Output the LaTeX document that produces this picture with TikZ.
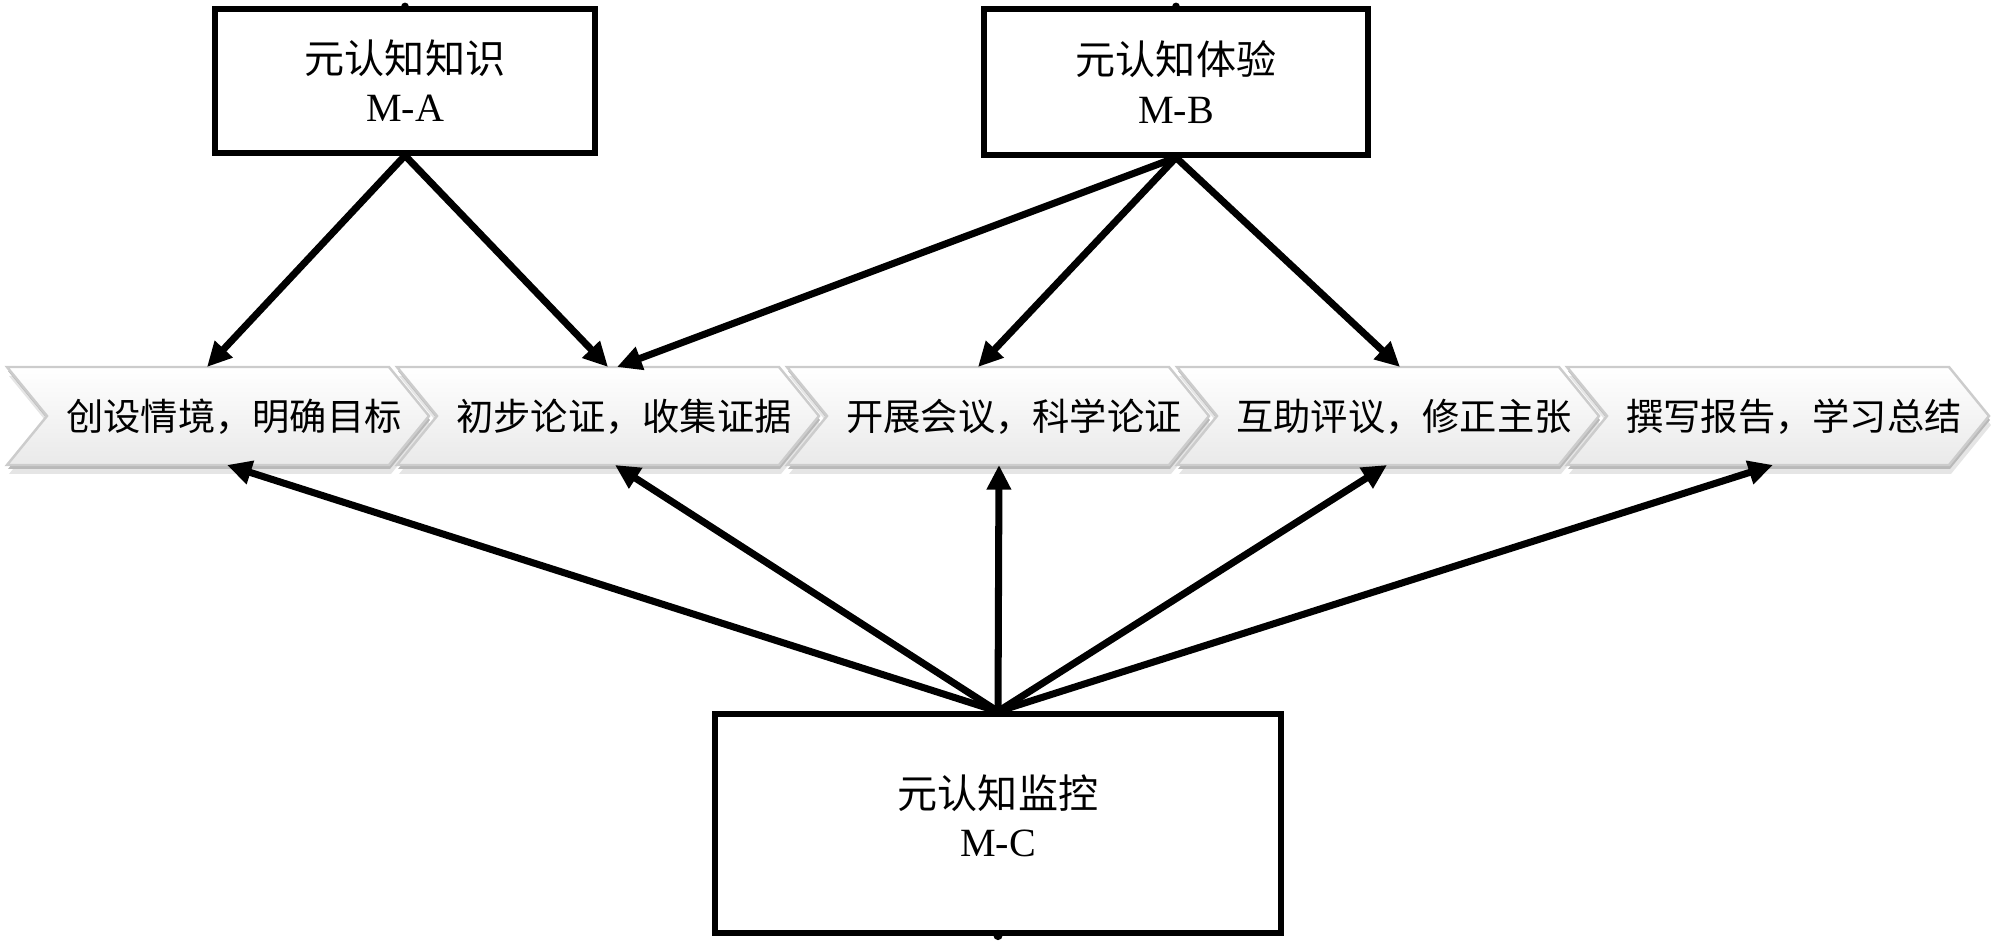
\documentclass[tikz,border=0pt]{standalone}
\usepackage{fontspec}
\setmainfont{Liberation Serif}
\newfontfamily\cjk{Noto Sans CJK SC}
\usetikzlibrary{arrows.meta,calc}
\begin{document}
\begin{tikzpicture}[x=0.01cm,y=-0.01cm,
  mbox/.style={draw=black, line width=1.7pt, fill=white, inner sep=0pt, align=center,
               font=\fontsize{11.4}{13.7}\selectfont},
  boxtext/.style={inner sep=0pt, align=center, font=\fontsize{11.4}{13.7}\selectfont},
  steptext/.style={inner sep=0pt, font=\cjk\fontsize{10.6}{12}\selectfont},
  link/.style={line width=2pt, -{Triangle[length=7pt,width=6.6pt]}},
  chevshadow/.style={fill=gray!55},
  chevbody/.style={top color=white, bottom color=gray!17, draw=gray!40, line width=0.7pt},
]
\useasboundingbox (0,0) rectangle (2000,943);

% top boxes
\node[mbox, minimum width=3.79cm, minimum height=1.43cm] (A) at (405,81) {{\cjk 元认知知识}\\M-A};
\node[mbox, minimum width=3.83cm, minimum height=1.45cm] (B) at (1176,82) {{\cjk 元认知体验}\\M-B};
% bottom box
\node[mbox, minimum width=5.65cm, minimum height=2.18cm] (C) at (998,823.5) {};
\node[boxtext] (Ct) at (998,816) {{\cjk 元认知监控}\\M-C};

% small connection blips
\fill (A.north) circle[radius=1.1pt];
\fill (B.north) circle[radius=1.1pt];
\fill (C.south) circle[radius=1.3pt];

% chevrons
\foreach \i/\t in {1/创设情境，明确目标,2/初步论证，收集证据,3/开展会议，科学论证,4/互助评议，修正主张,5/撰写报告，学习总结}{
  \pgfmathsetmacro\xa{7+390*(\i-1)}
  \fill[gray!20, shift={(2,9)}] (\xa,367) -- (\xa+382,367) -- (\xa+422,416) -- (\xa+382,465) -- (\xa,465) -- (\xa+40,416) -- cycle;
  \fill[chevshadow, shift={(1,4)}] (\xa,367) -- (\xa+382,367) -- (\xa+422,416) -- (\xa+382,465) -- (\xa,465) -- (\xa+40,416) -- cycle;
  \shade[chevbody] (\xa,367) -- (\xa+382,367) -- (\xa+422,416) -- (\xa+382,465) -- (\xa,465) -- (\xa+40,416) -- cycle;
  \node[steptext] (s\i) at (\xa+227,417) {\t};
}

% arrows from M-A
\draw[link] (A.south) -- ($(s1)+(-27,-50)$);
\draw[link] (A.south) -- ($(s2)+(-16,-50)$);
% arrows from M-B
\draw[link] (B.south) -- ($(s2)+(-7,-50)$);
\draw[link] (B.south) -- ($(s3)+(-36,-50)$);
\draw[link] (B.south) -- ($(s4)+(-4,-50)$);
% arrows from M-C
\draw[link] (C.north) -- ($(s1)+(-7,48)$);
\draw[link] (C.north) -- ($(s2)+(-9,48)$);
\draw[link] (C.north) -- ($(s3)+(-15,48)$);
\draw[link] (C.north) -- ($(s4)+(-17,48)$);
\draw[link] (C.north) -- ($(s5)+(-21,48)$);
\end{tikzpicture}
\end{document}
